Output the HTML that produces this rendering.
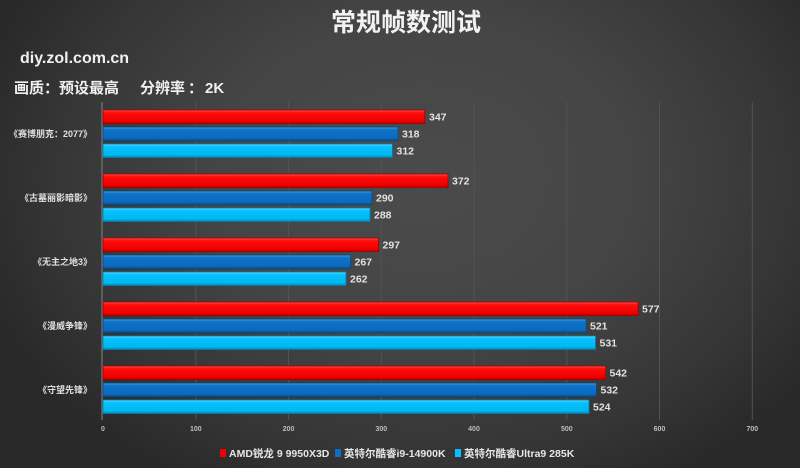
<!DOCTYPE html>
<html><head><meta charset="utf-8">
<style>
html,body{margin:0;padding:0;}
body{width:800px;height:468px;overflow:hidden;
background:radial-gradient(ellipse 58% 75% at 53% 38%, #4b4b4b 0%, #454545 45%, #353535 80%, #292929 100%);}
svg{display:block;}
text{font-family:"Liberation Sans","Noto Sans CJK SC",sans-serif;font-weight:bold;}
</style></head><body>
<svg width="800" height="468" viewBox="0 0 800 468" xmlns="http://www.w3.org/2000/svg">
<defs>
<linearGradient id="gr" x1="0" y1="0" x2="0" y2="1">
<stop offset="0" stop-color="#ff5050"/><stop offset="0.2" stop-color="#ff0d0d"/><stop offset="0.8" stop-color="#f20000"/><stop offset="1" stop-color="#b80000"/></linearGradient>
<linearGradient id="gb" x1="0" y1="0" x2="0" y2="1">
<stop offset="0" stop-color="#4a9be0"/><stop offset="0.2" stop-color="#0e72c8"/><stop offset="0.8" stop-color="#0b6cbf"/><stop offset="1" stop-color="#08508f"/></linearGradient>
<linearGradient id="gc" x1="0" y1="0" x2="0" y2="1">
<stop offset="0" stop-color="#5cd8ff"/><stop offset="0.2" stop-color="#08c0fb"/><stop offset="0.8" stop-color="#00b8f2"/><stop offset="1" stop-color="#0088b8"/></linearGradient>
</defs>

<!-- title -->
<text x="406" y="31" font-size="25" fill="#f2f2f2" text-anchor="middle">常规帧数测试</text>
<text x="20" y="63" font-size="16" fill="#f0f0f0">diy.zol.com.cn</text>
<text x="14" y="93" font-size="15" fill="#f0f0f0">画质：预设最高</text>
<text x="140" y="93" font-size="15" fill="#f0f0f0">分辨率</text>
<text x="188" y="93" font-size="15" fill="#f0f0f0">：</text>
<text x="205" y="93" font-size="15" fill="#f0f0f0">2K</text>

<!-- grid -->
<g stroke="#525252" stroke-width="1">
<line x1="195.8" y1="102" x2="195.8" y2="420"/>
<line x1="288.5" y1="102" x2="288.5" y2="420"/>
<line x1="381.3" y1="102" x2="381.3" y2="420"/>
<line x1="474" y1="102" x2="474" y2="420"/>
<line x1="566.8" y1="102" x2="566.8" y2="420"/>
<line x1="659.5" y1="102" x2="659.5" y2="420"/>
<line x1="752.3" y1="102" x2="752.3" y2="420"/>
</g>
<line x1="102" y1="102" x2="102" y2="420" stroke="#777" stroke-width="1.2"/>

<!-- tick labels -->
<g font-size="7" fill="#bdbdbd" text-anchor="middle" style="font-weight:normal">
<text x="103" y="431">0</text>
<text x="195.8" y="431">100</text>
<text x="288.5" y="431">200</text>
<text x="381.3" y="431">300</text>
<text x="474" y="431">400</text>
<text x="566.8" y="431">500</text>
<text x="659.5" y="431">600</text>
<text x="752.3" y="431">700</text>
</g>

<!-- bars -->
<g stroke-width="0.8">
<rect x="103" y="110" width="321.8" height="13.5" fill="url(#gr)" stroke="#a00000"/>
<rect x="103" y="127" width="294.9" height="13.5" fill="url(#gb)" stroke="#084a85"/>
<rect x="103" y="144" width="289.4" height="13.5" fill="url(#gc)" stroke="#0080ad"/>
<rect x="103" y="174" width="345.0" height="13.5" fill="url(#gr)" stroke="#a00000"/>
<rect x="103" y="191" width="269.0" height="13.5" fill="url(#gb)" stroke="#084a85"/>
<rect x="103" y="208" width="267.1" height="13.5" fill="url(#gc)" stroke="#0080ad"/>
<rect x="103" y="238" width="275.5" height="13.5" fill="url(#gr)" stroke="#a00000"/>
<rect x="103" y="255" width="247.6" height="13.5" fill="url(#gb)" stroke="#084a85"/>
<rect x="103" y="272" width="243.0" height="13.5" fill="url(#gc)" stroke="#0080ad"/>
<rect x="103" y="302" width="535.2" height="13.5" fill="url(#gr)" stroke="#a00000"/>
<rect x="103" y="319" width="483.2" height="13.5" fill="url(#gb)" stroke="#084a85"/>
<rect x="103" y="336" width="492.5" height="13.5" fill="url(#gc)" stroke="#0080ad"/>
<rect x="103" y="366" width="502.7" height="13.5" fill="url(#gr)" stroke="#a00000"/>
<rect x="103" y="383" width="493.4" height="13.5" fill="url(#gb)" stroke="#084a85"/>
<rect x="103" y="400" width="486.0" height="13.5" fill="url(#gc)" stroke="#0080ad"/>
</g>

<!-- value labels -->
<g font-size="10.5" fill="#e2e2e2">
<text x="429" y="120.5">347</text>
<text x="402" y="137.5">318</text>
<text x="396.5" y="154.5">312</text>
<text x="452" y="184.5">372</text>
<text x="376" y="201.5">290</text>
<text x="374" y="218.5">288</text>
<text x="382.5" y="248.5">297</text>
<text x="354.5" y="265.5">267</text>
<text x="350" y="282.5">262</text>
<text x="642" y="312.5">577</text>
<text x="590" y="329.5">521</text>
<text x="599.5" y="346.5">531</text>
<text x="609.5" y="376.5">542</text>
<text x="600.5" y="393.5">532</text>
<text x="593" y="410.5">524</text>
</g>

<!-- category labels -->
<g font-size="9" fill="#e0e0e0" text-anchor="end">
<text x="92" y="137">《赛博朋克：2077》</text>
<text x="92" y="201">《古墓丽影暗影》</text>
<text x="92" y="265">《无主之地3》</text>
<text x="92" y="329">《漫威争锋》</text>
<text x="92" y="393">《守望先锋》</text>
</g>

<!-- legend -->
<rect x="220" y="449" width="6" height="8" fill="#f00000"/>
<text x="229" y="457" font-size="10.5" fill="#e6e6e6">AMD锐龙 9 9950X3D</text>
<rect x="335" y="449" width="6" height="8" fill="#0e6ec4"/>
<text x="344" y="457" font-size="10.5" fill="#e6e6e6">英特尔酷睿i9-14900K</text>
<rect x="455" y="449" width="6" height="8" fill="#08c0fb"/>
<text x="464" y="457" font-size="10.5" fill="#e6e6e6">英特尔酷睿Ultra9 285K</text>
</svg>
</body></html>
